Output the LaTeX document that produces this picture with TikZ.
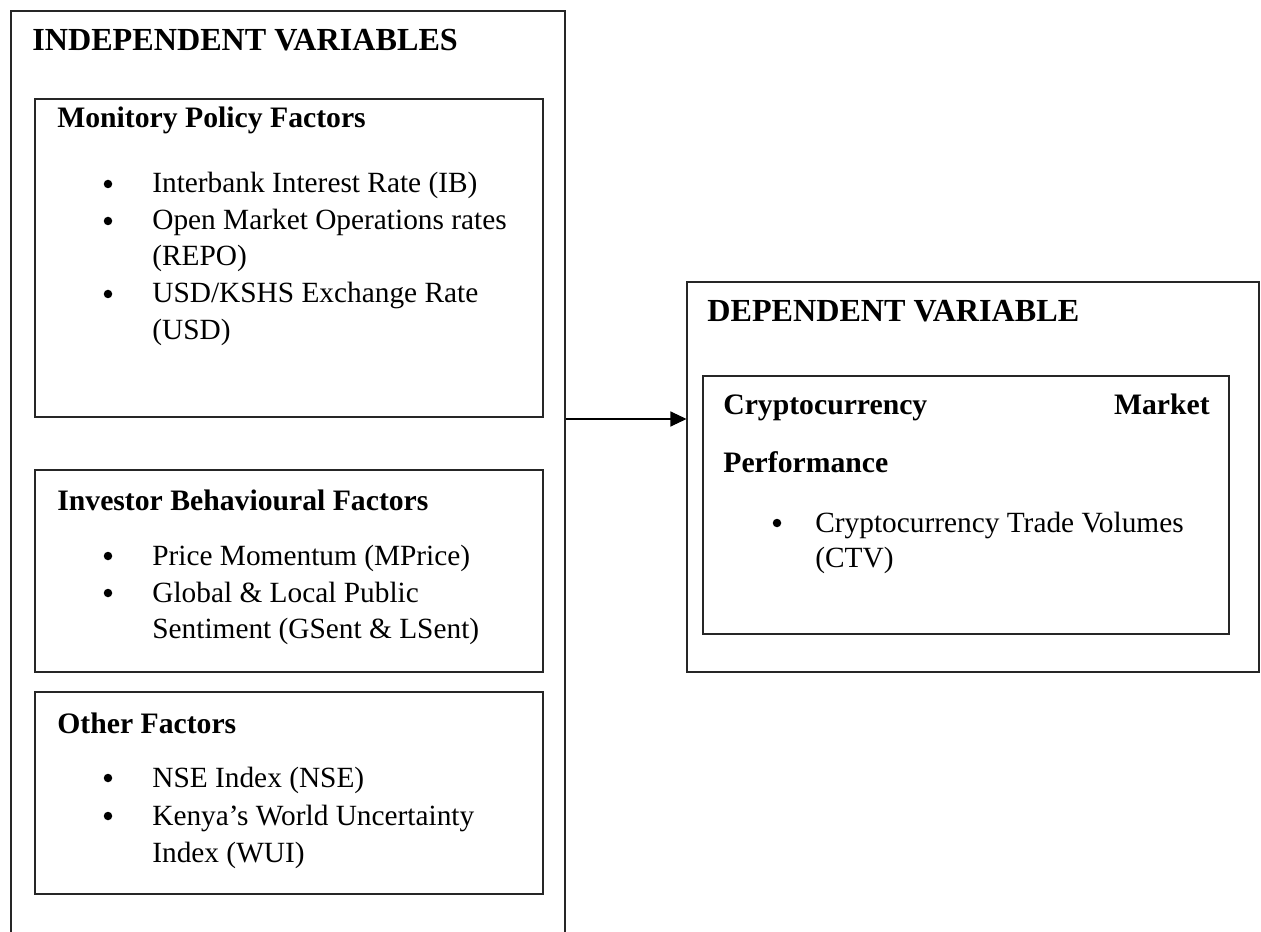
\documentclass[tikz,border=0pt]{standalone}
\usepackage{fontspec}
\setmainfont{Liberation Serif}
\usetikzlibrary{arrows.meta,fit}
\begin{document}
\begin{tikzpicture}[x=0.02cm,y=-0.02cm,
  frame/.style={draw=black!85, line width=0.6pt, inner sep=0pt},
  ttl/.style={anchor=base west, inner sep=0pt, font=\fontsize{18.3}{20}\selectfont\bfseries},
  hdr/.style={anchor=base west, inner sep=0pt, font=\fontsize{16.9}{20}\selectfont\bfseries},
  txt/.style={anchor=base west, inner sep=0pt, font=\fontsize{16.7}{20}\selectfont},
  bul/.style={circle, fill=black, inner sep=0pt, minimum size=0.17cm},
  conn/.style={draw=black, line width=0.6pt, -{Triangle[length=0.32cm,width=0.3cm]}},
]
\useasboundingbox (0,0) rectangle (1261,932);
\fill[white] (0,0) rectangle (1261,932);

% independent side
\node[frame, fit={(11,11) (565,970)}] (ind) {};
\node[ttl] (indt) at (32,51) {INDEPENDENT VARIABLES};

\node[frame, fit={(35,99) (543,417)}] (mon) {};
\node[hdr] (monh) at (57,128) {Monitory Policy Factors};
\node[bul] (monb1) at (108,184) {};
\node[txt] (mon1) at (152,193) {Interbank Interest Rate (IB)};
\node[bul] (monb2) at (108,221) {};
\node[txt] (mon2) at (152,230) {Open Market Operations rates};
\node[txt] (mon3) at (152,266) {(REPO)};
\node[bul] (monb3) at (108,294) {};
\node[txt] (mon4) at (152,303) {USD/KSHS Exchange Rate};
\node[txt] (mon5) at (152,340) {(USD)};

\node[frame, fit={(35,470) (543,672)}] (inv) {};
\node[hdr] (invh) at (57,510) {Investor Behavioural Factors};
\node[bul] (invb1) at (108,556) {};
\node[txt] (inv1) at (152,565) {Price Momentum (MPrice)};
\node[bul] (invb2) at (108,593) {};
\node[txt] (inv2) at (152,602) {Global \& Local Public};
\node[txt] (inv3) at (152,638) {Sentiment (GSent \& LSent)};

\node[frame, fit={(35,692) (543,894)}] (oth) {};
\node[hdr] (othh) at (57,733) {Other Factors};
\node[bul] (othb1) at (108,778) {};
\node[txt] (oth1) at (152,787) {NSE Index (NSE)};
\node[bul] (othb2) at (108,816) {};
\node[txt] (oth2) at (152,825) {Kenya’s World Uncertainty};
\node[txt] (oth3) at (152,862) {Index (WUI)};

% dependent side
\node[frame, fit={(687,282) (1259,672)}] (dep) {};
\node[ttl] (dept) at (707,322) {DEPENDENT VARIABLE};

\node[frame, fit={(703,376) (1229,634)}] (cry) {};
\node[hdr] (cryh1) at (723,415) {Cryptocurrency};
\node[hdr, anchor=base east] (cryh2) at (1210,415) {Market};
\node[hdr] (cryh3) at (723,472) {Performance};
\node[bul] (cryb1) at (777,523) {};
\node[txt] (cry1) at (815,532) {Cryptocurrency Trade Volumes};
\node[txt] (cry2) at (815,567) {(CTV)};

% connector
\draw[conn] (ind.east |- 0,419) -- (dep.west |- 0,419);
\end{tikzpicture}
\end{document}
